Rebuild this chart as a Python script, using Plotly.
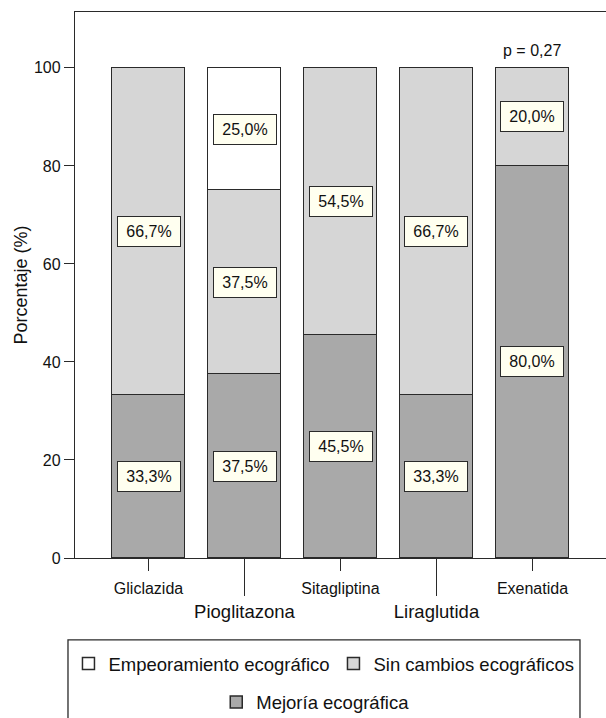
import plotly.graph_objects as go

categories = ["Gliclazida", "Pioglitazona", "Sitagliptina", "Liraglutida", "Exenatida"]
mejoria = [33.3, 37.5, 45.5, 33.3, 80.0]
sin_cambios = [66.7, 37.5, 54.5, 66.7, 20.0]
empeoramiento = [0.0, 25.0, 0.0, 0.0, 0.0]
y_ticks = [0, 20, 40, 60, 80, 100]
p_text = "p = 0,27"

FONT = "Liberation Sans, Arial, Helvetica, sans-serif"
LINE = "#2a2a2a"
x_idx = list(range(len(categories)))

fig = go.Figure()
series = [
    ("Mejoría ecográfica", mejoria, "#a9a9a9", "legend2", 3),
    ("Sin cambios ecográficos", sin_cambios, "#d6d6d6", "legend", 2),
    ("Empeoramiento ecográfico", empeoramiento, "#ffffff", "legend", 1),
]
for name, vals, col, leg, rank in series:
    fig.add_trace(go.Bar(
        x=x_idx, y=vals, name=name, width=0.76,
        marker=dict(color=col, line=dict(color=LINE, width=1.5)),
        legend=leg, legendrank=rank, hoverinfo="skip",
    ))

# carrier trace so the second (long-tick) category axis is drawn
fig.add_trace(go.Scatter(
    x=[0], y=[None], xaxis="x2", yaxis="y", mode="markers",
    showlegend=False, hoverinfo="skip",
))

# segment labels
annotations = []
for i in x_idx:
    base = 0.0
    for vals in (mejoria, sin_cambios, empeoramiento):
        v = vals[i]
        if v > 0:
            annotations.append(dict(
                x=i, y=base + v / 2, xref="x", yref="y",
                text=f"{v:.1f}".replace(".", ",") + "%",
                showarrow=False, font=dict(family=FONT, size=16, color="#111"),
                bgcolor="#fffff0", bordercolor=LINE, borderwidth=1,
                borderpad=1, width=60, height=27,
            ))
        base += v
annotations.append(dict(
    x=x_idx[-1], y=103.6, xref="x", yref="y", text=p_text, showarrow=False,
    font=dict(family=FONT, size=16, color="#111"),
))

fig.update_layout(
    width=606, height=718,
    margin=dict(l=75, r=0, t=12, b=160, autoexpand=False),
    paper_bgcolor="white", plot_bgcolor="white",
    barmode="stack", bargap=0,
    font=dict(family=FONT, size=16, color="#111"),
    annotations=annotations,
    xaxis=dict(
        range=[-0.766, 4.766], tickvals=[0, 2, 4],
        ticktext=[categories[0], categories[2], categories[4]],
        ticks="outside", ticklen=12, tickwidth=1.3, tickcolor=LINE,
        showline=True, linecolor=LINE, linewidth=1.3, mirror=True,
        showgrid=False, zeroline=False, tickfont=dict(size=16),
        ticklabelstandoff=4, automargin=False,
    ),
    xaxis2=dict(
        overlaying="x", anchor="y", side="bottom",
        range=[-0.766, 4.766], tickvals=[1, 3],
        ticktext=[categories[1], categories[3]],
        ticks="outside", ticklen=37, tickwidth=1.3, tickcolor=LINE,
        showline=False, showgrid=False, zeroline=False,
        tickfont=dict(size=18.5), automargin=False,
    ),
    yaxis=dict(
        range=[0, 111.4], tickvals=y_ticks,
        ticks="outside", ticklen=10, tickwidth=1.3, tickcolor=LINE,
        showline=True, linecolor=LINE, linewidth=1.3,
        showgrid=False, zeroline=False, tickfont=dict(size=16),
        title=dict(text="Porcentaje (%)", font=dict(size=18), standoff=1),
        automargin=False,
    ),
    legend=dict(
        orientation="h", x=-0.0123, y=-0.1593, xanchor="left", yanchor="top",
        font=dict(size=18.5), bgcolor="rgba(0,0,0,0)", borderwidth=0,
        traceorder="normal", entrywidth=220,
    ),
    legend2=dict(
        orientation="h", x=0.266, y=-0.230, xanchor="left", yanchor="top",
        font=dict(size=18.5), bgcolor="rgba(0,0,0,0)", borderwidth=0,
    ),
    shapes=[dict(
        type="rect", xref="paper", yref="paper",
        x0=-0.0132, x1=0.951, y0=-0.40, y1=-0.150,
        line=dict(color=LINE, width=1.3), fillcolor="rgba(0,0,0,0)",
    )],
    showlegend=True,
)

fig.write_html(
    "out.html",
    config={"displayModeBar": False},
    post_script="document.body.style.margin='0';document.body.style.overflow='hidden';",
)
